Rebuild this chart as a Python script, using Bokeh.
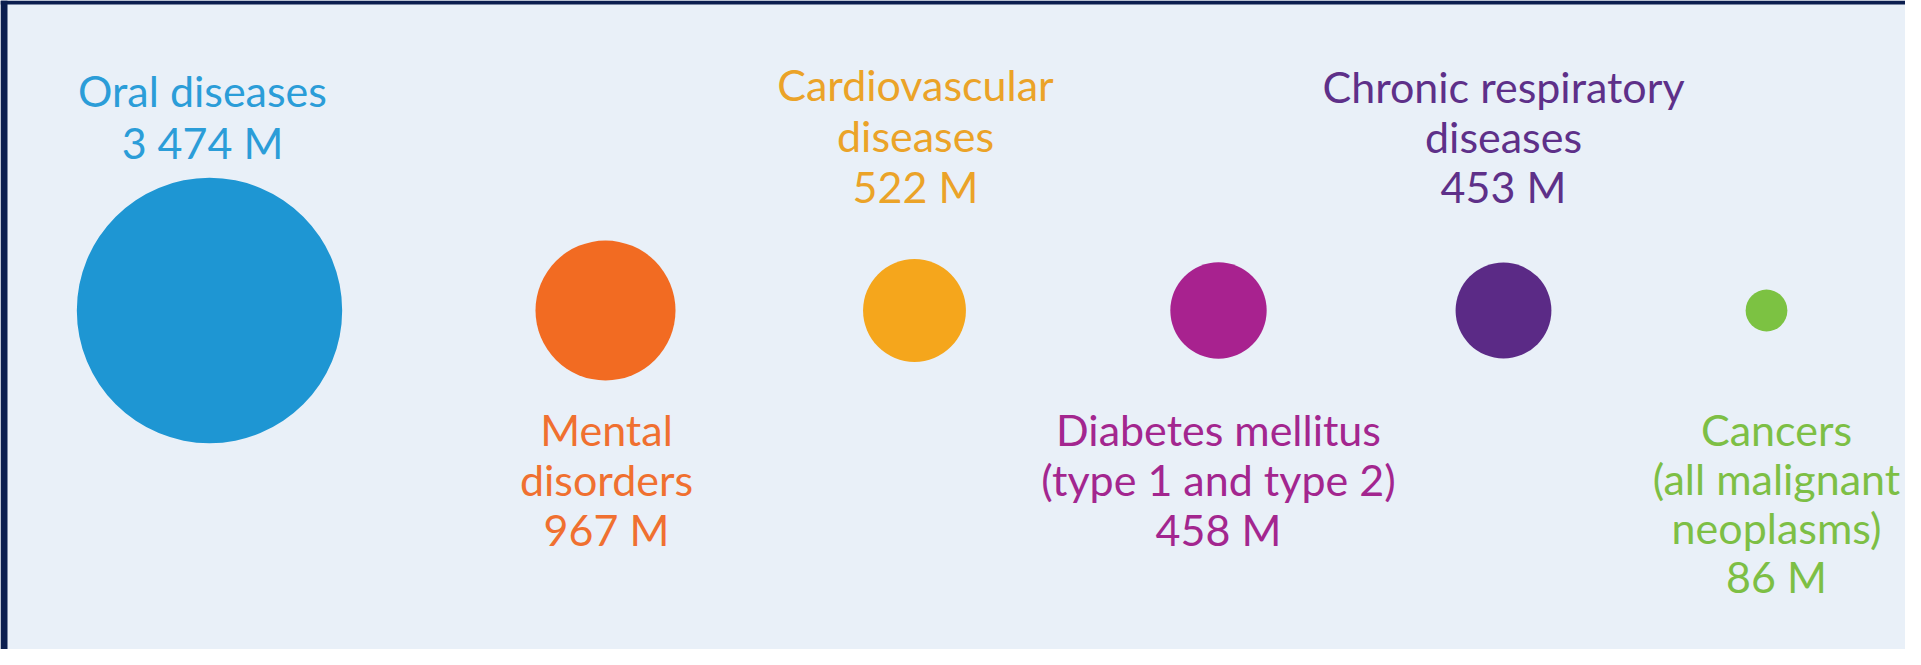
from bokeh.plotting import figure
from bokeh.models import Range1d, ColumnDataSource
from bokeh.core.properties import value
from bokeh.embed import file_html
from bokeh.resources import INLINE
import math

# ---- data ----
categories = ["Oral diseases", "Mental disorders", "Cardiovascular diseases",
              "Diabetes mellitus (type 1 and type 2)", "Chronic respiratory diseases",
              "Cancers (all malignant neoplasms)"]
cases_millions = [3474, 967, 522, 458, 453, 86]
value_labels = ["3 474 M", "967 M", "522 M", "458 M", "453 M", "86 M"]
label_lines = [
    ["Oral diseases"],
    ["Mental", "disorders"],
    ["Cardiovascular", "diseases"],
    ["Diabetes mellitus", "(type 1 and type 2)"],
    ["Chronic respiratory", "diseases"],
    ["Cancers", "(all malignant", "neoplasms)"],
]

# ---- layout / style ----
colors = ["#1e96d3", "#f26b22", "#f5a61c", "#a8228f", "#5b2a86", "#7cc242"]
text_colors = ["#2b9dd8", "#f07030", "#eba328", "#a3268f", "#5e3089", "#7dbf45"]
centers_x = [209, 605, 914, 1218, 1503, 1766]
text_x = [202, 606, 915, 1218, 1503, 1776]
first_baseline = [90, 429, 84, 429, 86, 429]
line_h = [52, 50, 51, 50, 50, 49]
center_y = 310
radius_scale = 70 / math.sqrt(967)   # px per sqrt(million): circle area ~ value
BG = "#e9f0f8"
NAVY = "#0b1e4f"
FONT = "Lato"
FS = "43px"

W, H = 1905, 649
p = figure(width=W, height=H, output_backend="svg", toolbar_location=None,
           x_range=Range1d(0, W), y_range=Range1d(H, 0),
           min_border=0, background_fill_color=BG, border_fill_color=BG)
p.axis.visible = False
p.grid.visible = False
p.outline_line_color = None

# frame border (top and left)
p.quad(left=[0, 0], right=[W, 7], top=[0, 0], bottom=[4, H],
       fill_color=NAVY, line_color=None)

src = ColumnDataSource(dict(
    x=centers_x, y=[center_y] * len(cases_millions),
    r=[radius_scale * math.sqrt(v) for v in cases_millions],
    c=colors))
p.circle(x="x", y="y", radius="r", fill_color="c", line_color=None, source=src)

tx, ty, tt, tc = [], [], [], []
for i, lines in enumerate(label_lines):
    all_lines = lines + [value_labels[i]]
    for j, ln in enumerate(all_lines):
        tx.append(text_x[i]); ty.append(first_baseline[i] + j * line_h[i])
        tt.append(ln); tc.append(text_colors[i])

p.text(x=tx, y=ty, text=tt, text_color=tc, text_align="center",
       text_baseline="alphabetic", text_font=value(FONT), text_font_size=FS)

open("out.html", "w").write(file_html(p, INLINE))
